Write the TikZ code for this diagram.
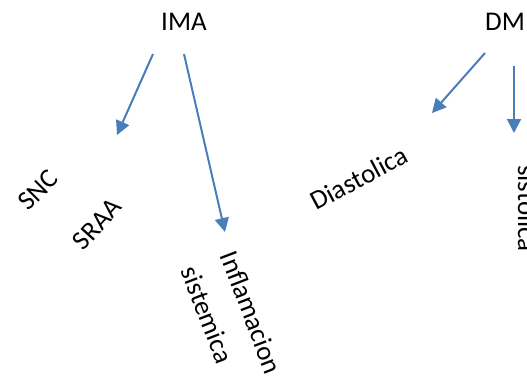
\documentclass[tikz,border=0pt]{standalone}
\usepackage{fontspec}
\setmainfont{Carlito}
\usetikzlibrary{arrows.meta}
\definecolor{arrowblue}{RGB}{74,126,187}
\begin{document}
\begin{tikzpicture}[x=1pt,y=-1pt,
  lbl/.style={inner sep=0pt,font=\fontsize{27}{42}\selectfont},
  conn/.style={draw=arrowblue,line width=2pt,-{Triangle[length=14pt,width=14pt]}}]
\useasboundingbox (0,0) rectangle (527,376);
% labels
\node[lbl,anchor=base] (ima) at (184,30) {IMA};
\node[lbl,anchor=base] (dm) at (505,30) {DM};
\node[lbl,rotate=45] (snc) at (38,190) {SNC};
\node[lbl,rotate=48] (sraa) at (97,224) {SRAA};
\node[lbl,rotate=-69,align=left] (infl) at (232,320) {Inflamacion\\sistemica};
\node[lbl,rotate=28] (dias) at (359,178) {Diastolica};
\node[lbl,rotate=-90,anchor=base west] (sist) at (518,165) {sistolica};
% arrow ends
\coordinate (s1) at (153,54);
\coordinate (e1) at (117,135);
\coordinate (s2) at (184,54);
\coordinate (e2) at (225,232);
\coordinate (s3) at (485,53);
\coordinate (e3) at (432,113);
\coordinate (s4) at (514,66);
\coordinate (e4) at (514,133);
\draw[conn] (s1) -- (e1);
\draw[conn] (s2) -- (e2);
\draw[conn] (s3) -- (e3);
\draw[conn] (s4) -- (e4);
\end{tikzpicture}
\end{document}
